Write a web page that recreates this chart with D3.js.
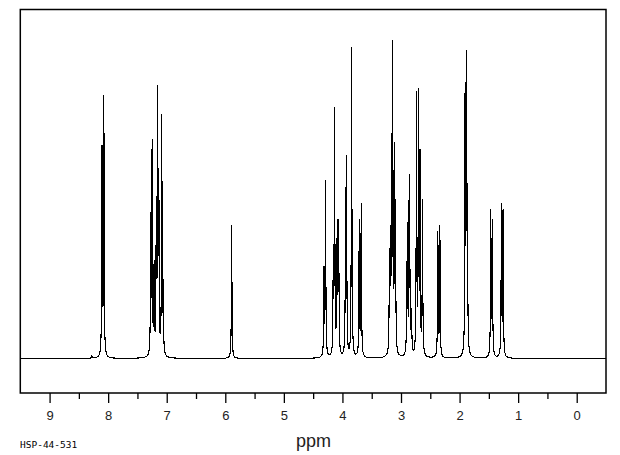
<!DOCTYPE html>
<html>
<head>
<meta charset="utf-8">
<script src="https://cdn.jsdelivr.net/npm/d3@7"></script>
<style>
  body { margin: 0; background: #fff; }
  .nmr-line { fill: none; stroke: #000; stroke-width: 1.1; shape-rendering: crispEdges; }
  .nmr-frame { fill: none; stroke: #000; stroke-width: 1.5; }
  .nmr-axis text { font-family: "Liberation Sans", Arial, sans-serif; font-size: 13px; fill: #222; }
  .nmr-axis line { stroke: #000; stroke-width: 1.3; }
</style>
</head>
<body onload="onload()">
<svg id="nmr-chart" width="620" height="455"></svg>
<script>
// peak list: shift (ppm) and apex height (tallest = 100)
var peakShifts = [
  8.280, 8.105, 8.074,
  7.273, 7.249, 7.215, 7.178, 7.155, 7.135, 7.085, 7.060,
  5.891,
  4.315, 4.288, 4.156, 4.134, 4.095, 4.076, 4.060, 3.947, 3.930, 3.844, 3.833, 3.713, 3.679,
  3.200, 3.184, 3.162, 3.145, 3.116, 3.094,
  2.900, 2.889, 2.860, 2.843, 2.820, 2.736, 2.702, 2.675, 2.633,
  2.371, 2.337,
  1.905, 1.883, 1.866,
  1.467, 1.440, 1.286, 1.257
];
var peakHeights = [
  1, 67, 83,
  46, 69, 31, 51, 86, 60, 77, 25,
  42,
  29, 56, 36, 79, 38, 44, 28, 54, 64, 98, 31, 44, 49,
  24, 42, 71, 100, 68, 50,
  30, 43, 58, 28, 16, 84, 85, 66, 50,
  40, 42,
  87, 97, 55,
  47, 44, 49, 47
];
var lineHalfWidth = 0.0055; // lorentzian half width at half height, ppm

var majorTicks = [9, 8, 7, 6, 5, 4, 3, 2, 1, 0];
var minorTicks = [8.5, 7.5, 6.5, 5.5, 4.5, 3.5, 2.5, 1.5, 0.5];
var axisTitle = "ppm";
var sampleCode = "HSP-44-531";

var nmr = {
  left: 20.3, right: 606, top: 9.5, bottom: 393,
  baseline: 358.5, topPeak: 40.5
};

/*
  NAME: onload
  DESCRIPTION: builds scales, frame, axis and the spectrum trace
*/
function onload() {
  var svg = d3.select("#nmr-chart");

  nmr.x = d3.scaleLinear().domain([9.5, -0.5]).range([nmr.left, nmr.right]);
  nmr.y = d3.scaleLinear().domain([0, 100]).range([nmr.baseline, nmr.topPeak]);

  svg.append("clipPath")
    .attr("id", "nmr-clip")
    .append("rect")
    .attr("x", nmr.left)
    .attr("y", nmr.top)
    .attr("width", nmr.right - nmr.left)
    .attr("height", nmr.bottom - nmr.top);

  drawSpectrum(svg);
  drawAxis(svg);

  svg.append("rect")
    .attr("class", "nmr-frame")
    .attr("x", nmr.left)
    .attr("y", nmr.top)
    .attr("width", nmr.right - nmr.left)
    .attr("height", nmr.bottom - nmr.top);

  svg.append("text")
    .attr("x", 313.5)
    .attr("y", 447)
    .attr("text-anchor", "middle")
    .style("font-family", "'Liberation Sans', Arial, sans-serif")
    .style("font-size", "18px")
    .style("fill", "#222")
    .text(axisTitle);

  svg.append("text")
    .attr("x", 20)
    .attr("y", 448)
    .style("font-family", "'DejaVu Sans Mono', monospace")
    .style("font-size", "9.5px")
    .text(sampleCode);

  return;
} // end function onload

function lorentz(d) {
  var g2 = lineHalfWidth * lineHalfWidth;
  return g2 / (d * d + g2);
}

/*
  NAME: lineAmplitudes
  DESCRIPTION: finds the amplitude of each line so that the summed trace
               reaches the read apex height (neighbouring lines overlap)
*/
function lineAmplitudes() {
  var amp = peakHeights.slice();
  for (var it = 0; it < 60; it++) {
    var next = [];
    for (var i = 0; i < peakShifts.length; i++) {
      var others = 0;
      for (var j = 0; j < peakShifts.length; j++) {
        if (j != i) others += amp[j] * lorentz(peakShifts[i] - peakShifts[j]);
      }
      next.push(Math.max(peakHeights[i] * 0.15, peakHeights[i] - others));
    }
    amp = next;
  }
  return amp;
} // end function lineAmplitudes

/*
  NAME: drawSpectrum
  DESCRIPTION: sums a lorentzian line for every peak of the peak list and draws the trace
*/
function drawSpectrum(svg) {
  var step = 0.0005;
  var points = [];
  var amp = lineAmplitudes();

  for (var ppm = 9.5; ppm >= -0.5; ppm -= step) {
    var sum = 0;
    for (var i = 0; i < peakShifts.length; i++) {
      sum += amp[i] * lorentz(ppm - peakShifts[i]);
    }
    points.push([ppm, sum]);
  }

  var line = d3.line()
    .x(function (d) { return nmr.x(d[0]); })
    .y(function (d) { return nmr.y(d[1]); });

  svg.append("path")
    .datum(points)
    .attr("class", "nmr-line")
    .attr("clip-path", "url(#nmr-clip)")
    .attr("d", line);

  return;
} // end function drawSpectrum

/*
  NAME: drawAxis
  DESCRIPTION: major labelled ticks every ppm, short ticks between
*/
function drawAxis(svg) {
  var major = d3.axisBottom(nmr.x)
    .tickValues(majorTicks)
    .tickFormat(d3.format("d"))
    .tickSize(10)
    .tickPadding(8);

  var minor = d3.axisBottom(nmr.x)
    .tickValues(minorTicks)
    .tickFormat("")
    .tickSize(6);

  var gMajor = svg.append("g")
    .attr("class", "nmr-axis")
    .attr("transform", "translate(0," + nmr.bottom + ")")
    .call(major);

  var gMinor = svg.append("g")
    .attr("class", "nmr-axis")
    .attr("transform", "translate(0," + nmr.bottom + ")")
    .call(minor);

  gMajor.select(".domain").remove();
  gMinor.select(".domain").remove();

  return;
} // end function drawAxis
</script>
</body>
</html>
